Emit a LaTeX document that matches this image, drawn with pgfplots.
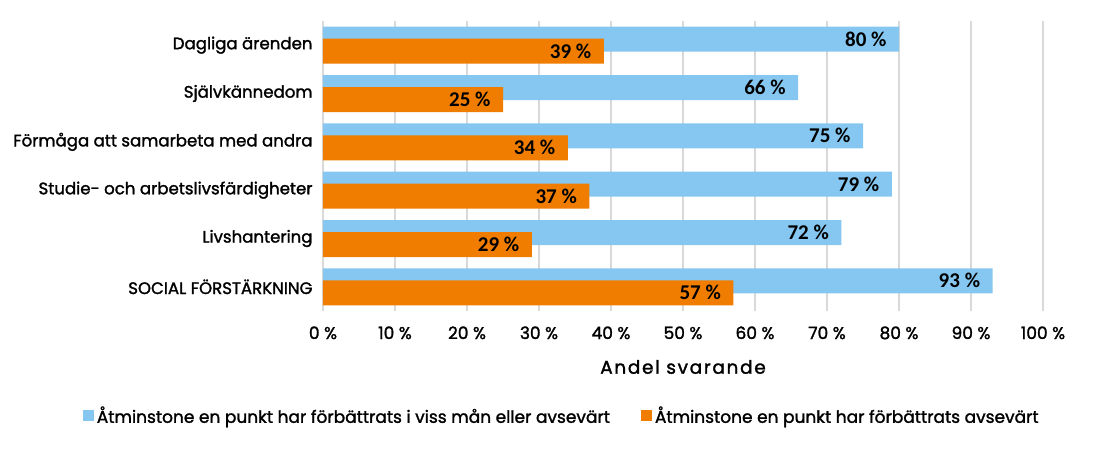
\documentclass[border=0pt]{standalone}
\usepackage{fontspec}
\usepackage{pgfplots}
\pgfplotsset{compat=1.18}
\setmainfont{Poppins}
\newfontfamily\med[FakeBold=1.6]{Poppins}
\newfontfamily\carl{Carlito}
\newfontfamily\spaced[LetterSpace=9,FakeBold=1.6]{Poppins}
\definecolor{cblue}{RGB}{133,199,240}
\definecolor{corange}{RGB}{240,125,0}
\definecolor{cgrid}{RGB}{217,217,217}
\begin{document}
\begin{tikzpicture}[x=1pt,y=1pt]
\path[use as bounding box] (0,0) rectangle (1093,448);
\begin{axis}[
 at={(323pt,137pt)}, anchor=south west,
 scale only axis, width=720pt, height=290pt,
 xbar, bar width=25pt,
 xmin=0, xmax=100, ymin=-0.5, ymax=5.5,
 clip=false,
 axis line style={draw=none},
 tick style={draw=none},
 xmajorgrids, major grid style={cgrid, line width=1.5pt},
 xtick={0,10,...,100},
 xticklabels={0 \%,10 \%,20 \%,30 \%,40 \%,50 \%,60 \%,70 \%,80 \%,90 \%,100 \%},
 xticklabel style={font=\med\fontsize{17}{19}\selectfont, anchor=base, yshift=-28pt},
 ytick={0,...,5},
 yticklabels={SOCIAL FÖRSTÄRKNING, Livshantering, Studie- och arbetslivsfärdigheter, Förmåga att samarbeta med andra, Självkännedom, Dagliga ärenden},
 yticklabel style={font=\med\fontsize{16.6}{19}\selectfont, anchor=east, inner sep=0pt, xshift=-6pt},
 xlabel={Andel svarande},
 xlabel style={font=\spaced\fontsize{18.5}{20}\selectfont, at={(axis description cs:0.5,-0.193)}, anchor=center},
 point meta=x,
 nodes near coords={\pgfmathprintnumber[assume math mode=true]{\pgfplotspointmeta} \%},
 every node near coord/.append style={font=\carl\bfseries\fontsize{21}{23}\selectfont, anchor=east, xshift=-9pt},
 legend columns=2,
 legend style={at={(axis description cs:-0.338,-0.36)}, anchor=west, draw=none, fill=none,
   font=\med\fontsize{17}{20}\selectfont,
   /tikz/every even column/.append style={column sep=28pt}, nodes={inner sep=3pt}},
 legend image code/.code={\fill[#1] (0pt,-5.5pt) rectangle (11pt,5.5pt);},
]
\addplot[fill=cblue, draw=none, bar shift=6pt] coordinates {
 (93,0) (72,1) (79,2) (75,3) (66,4) (80,5)};
\addplot[fill=corange, draw=none, bar shift=-6pt] coordinates {
 (57,0) (29,1) (37,2) (34,3) (25,4) (39,5)};
\legend{Åtminstone en punkt har förbättrats i viss mån eller avsevärt, Åtminstone en punkt har förbättrats avsevärt}
\end{axis}
\end{tikzpicture}
\end{document}
